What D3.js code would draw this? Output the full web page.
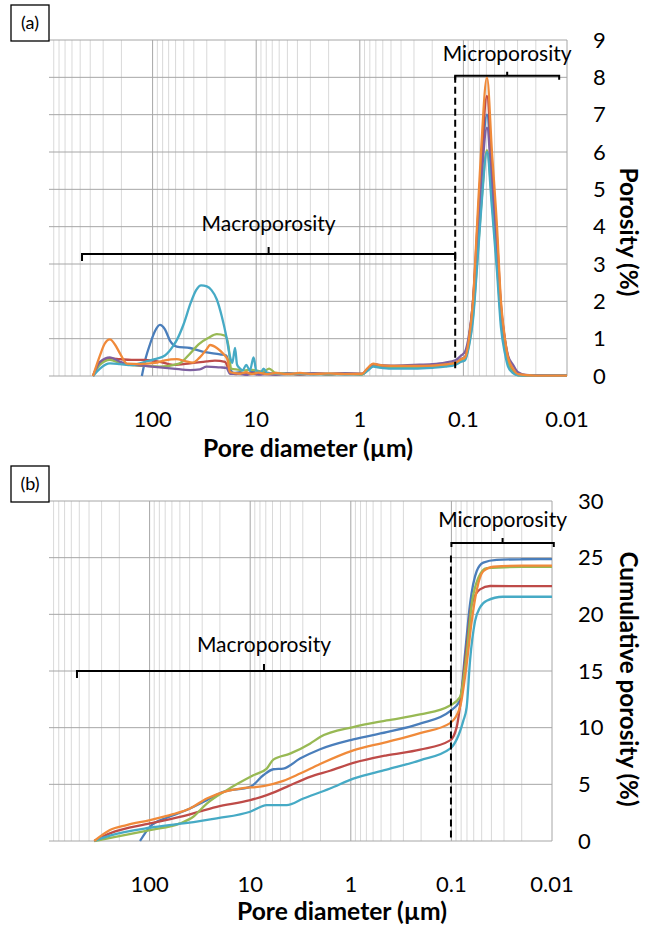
<!DOCTYPE html>
<html>
<head>
<meta charset="utf-8">
<script src="https://cdn.jsdelivr.net/npm/d3@7"></script>
<style>
body { margin: 0; background: #fff; }
text { font-family: Lato, "Open Sans", sans-serif; fill: #000; }
</style>
</head>
<body>
<svg id="chart" width="654" height="930"></svg>
<script>
// x axis (pore diameter, µm) - same for both panels
var xTicks = [100, 10, 1, 0.1, 0.01];
var xTickLabels = ["100", "10", "1", "0.1", "0.01"];
var distTicks = [0, 1, 2, 3, 4, 5, 6, 7, 8, 9];
var cumTicks = [0, 5, 10, 15, 20, 25, 30];

var colors = {
  blue: "#4a7ebb", red: "#be4b48", green: "#98b954",
  purple: "#7d60a0", teal: "#46aac5", orange: "#f08a3a"
};

// (a) pore size distribution, [diameter µm, porosity %]
var distBlue = [[127,0],[116,0.5],[106,0.85],[95,1.2],[85,1.37],[76,1.25],[68,0.95],[58.5,0.79],[43.5,0.75],[33,0.65],[22.3,0.58],[19.4,0.55],[17.9,0.2],[16.5,0.08],
  [14.3,0.1],[12.5,0.05],[11,0.12],[9.5,0.06],[8,0.09],[6.5,0.05],[5,0.07],[3.8,0.05],[2.8,0.07],[2,0.05],[1.4,0.07],[0.95,0.05],[0.85,0.16],[0.74,0.3],[0.66,0.27],[0.5,0.24],[0.3,0.25],[0.2,0.27],[0.15,0.3],[0.12,0.36],[0.105,0.45],
  [0.0965,0.5],[0.0883,1.0],[0.0808,1.9],[0.0739,3.6],[0.0676,5.3],[0.0592,7.0],[0.053,5.3],[0.0474,3.5],[0.0434,1.8],[0.0397,0.9],[0.0371,0.45],[0.0332,0.15],[0.0297,0.03],[0.02,0.01],[0.01,0.01]];
var distRed = [[376,0],[322,0.35],[258,0.47],[206,0.45],[160,0.43],[118,0.43],[85,0.38],[63.5,0.3],[43.5,0.34],[30,0.39],[25,0.41],[20,0.38],[17.9,0.1],[16,0.05],
  [14.3,0.07],[12.5,0.04],[11,0.08],[9.5,0.05],[8,0.06],[6.5,0.04],[5,0.06],[3.8,0.04],[2.8,0.06],[2,0.05],[1.4,0.06],[0.95,0.05],[0.85,0.18],[0.74,0.31],[0.66,0.28],[0.5,0.25],[0.3,0.25],[0.2,0.27],[0.15,0.3],[0.12,0.35],[0.105,0.45],
  [0.0965,0.5],[0.0883,1.0],[0.0808,2.0],[0.0739,3.8],[0.0676,5.6],[0.0592,7.5],[0.053,5.6],[0.0474,3.7],[0.0434,1.9],[0.0397,0.95],[0.0371,0.48],[0.0332,0.16],[0.0297,0.03],[0.02,0.01],[0.01,0.01]];
var distGreen = [[376,0],[322,0.3],[258,0.43],[206,0.35],[160,0.29],[118,0.27],[85,0.25],[62,0.3],[54,0.35],[43.5,0.6],[36,0.85],[29,1.02],[24,1.12],[20,1.08],[18.5,0.8],[17.5,0.2],[15,0.17],[13,0.15],[11.5,0.17],[8.5,0.12],[7.5,0.2],[6.5,0.08],
  [5,0.06],[3.8,0.05],[2.8,0.06],[2,0.04],[1.4,0.06],[0.95,0.04],[0.85,0.14],[0.74,0.27],[0.66,0.24],[0.5,0.22],[0.3,0.22],[0.2,0.24],[0.15,0.27],[0.12,0.32],[0.105,0.4],
  [0.0965,0.45],[0.0883,0.85],[0.0808,1.6],[0.0739,3.0],[0.0676,4.5],[0.0592,6.05],[0.053,4.7],[0.0474,3.0],[0.0434,1.5],[0.0397,0.75],[0.0371,0.35],[0.0332,0.1],[0.0297,0.02],[0.02,0.01],[0.01,0.01]];
var distPurple = [[376,0],[322,0.38],[258,0.5],[206,0.38],[177,0.32],[118,0.27],[85,0.23],[63.5,0.2],[43.5,0.16],[35,0.18],[30,0.25],[22.3,0.23],[19.4,0.22],[17.9,0.06],
  [14.3,0.05],[12.5,0.03],[11,0.06],[9.5,0.04],[8,0.05],[6.5,0.04],[5,0.06],[3.8,0.05],[2.8,0.07],[2,0.05],[1.4,0.07],[0.95,0.06],[0.85,0.18],[0.74,0.32],[0.66,0.3],[0.5,0.28],[0.3,0.3],[0.2,0.32],[0.15,0.36],[0.12,0.42],[0.105,0.55],
  [0.0965,0.65],[0.0883,1.1],[0.0808,2.0],[0.0739,3.5],[0.0676,5.1],[0.0592,6.65],[0.053,5.1],[0.0474,3.4],[0.0434,1.8],[0.0397,0.95],[0.0371,0.55],[0.0332,0.3],[0.0297,0.1],[0.025,0.03],[0.02,0.02],[0.01,0.01]];
var distTeal = [[376,0],[322,0.2],[258,0.34],[206,0.32],[160,0.29],[118,0.38],[95,0.45],[76,0.55],[63.5,0.8],[58.5,0.96],[50,1.4],[43,1.95],[38,2.3],[34,2.43],[30,2.4],[27,2.3],[24,2.05],[21.5,1.6],[19.4,1.05],[18,0.55],[17,0.35],[16,0.75],[15.3,0.3],[14.3,0.2],[13.5,0.15],[12.5,0.3],[11.5,0.15],[10.6,0.5],[10,0.15],[9,0.1],[8.5,0.2],[7.8,0.08],
  [6.5,0.06],[5,0.05],[3.8,0.06],[2.8,0.04],[2,0.06],[1.4,0.04],[0.95,0.05],[0.85,0.13],[0.74,0.25],[0.66,0.23],[0.5,0.2],[0.3,0.2],[0.2,0.22],[0.15,0.25],[0.12,0.3],[0.105,0.38],
  [0.0965,0.42],[0.0883,0.8],[0.0808,1.5],[0.0739,2.9],[0.0676,4.4],[0.0592,6.0],[0.053,4.5],[0.0474,2.8],[0.0434,1.3],[0.0397,0.6],[0.0371,0.25],[0.0332,0.08],[0.0297,0.02],[0.02,0.01],[0.01,0.01]];
var distOrange = [[376,0],[322,0.55],[292,0.85],[258,0.98],[232,0.85],[206,0.6],[177,0.33],[132,0.32],[95,0.35],[76,0.42],[58.5,0.45],[48.6,0.4],[40.7,0.36],[35,0.5],[30,0.72],[27.9,0.83],[24,0.75],[20.9,0.6],[19,0.45],[17.9,0.1],[16,0.08],
  [14.3,0.06],[12.5,0.1],[11,0.05],[9.5,0.09],[8,0.05],[6.5,0.08],[5,0.05],[3.8,0.08],[2.8,0.05],[2,0.07],[1.4,0.05],[0.95,0.06],[0.85,0.2],[0.74,0.33],[0.66,0.3],[0.5,0.27],[0.3,0.27],[0.2,0.28],[0.15,0.31],[0.12,0.35],[0.105,0.45],
  [0.0965,0.5],[0.0883,1.0],[0.0808,2.0],[0.0739,4.0],[0.0676,6.0],[0.0592,8.0],[0.053,6.0],[0.0474,4.0],[0.0434,2.0],[0.0397,1.0],[0.0371,0.5],[0.0332,0.2],[0.0297,0.05],[0.02,0.01],[0.01,0.01]];

// (b) cumulative porosity, [diameter µm, cumulative porosity %]
var cumBlue = [[124.5,0],[99.1,1.26],[67.6,2.05],[42.8,2.73],[27,3.6],[18.5,4.34],[10,4.78],[7.41,5.8],[5.89,6.33],[4.69,6.39],[3.2,7.27],[2.02,8.1],[0.944,8.97],[0.44,9.6],[0.205,10.35],[0.103,11.46],[0.0822,12.4],[0.0733,16.5],[0.0653,20.9],[0.0561,23.8],[0.0482,24.56],[0.0355,24.8],[0.02,24.86],[0.01,24.88]];
var cumRed = [[355,0],[248,0.67],[99.1,1.55],[46.2,2.2],[21.5,3.02],[10,3.6],[6.85,4.05],[4.34,4.78],[2.55,5.66],[1.61,6.2],[0.944,6.89],[0.44,7.56],[0.205,8.06],[0.103,8.88],[0.0886,10.05],[0.0705,17.1],[0.0628,20.9],[0.052,22.2],[0.0413,22.5],[0.02,22.49],[0.01,22.49]];
var cumGreen = [[355,0],[212,0.38],[99.1,0.97],[49.9,1.55],[36.8,2.14],[27,3.3],[17.1,4.49],[9.31,5.8],[6.85,6.39],[5.89,7.18],[4.02,7.71],[2.55,8.59],[2.02,9.17],[0.944,10.05],[0.44,10.64],[0.205,11.17],[0.103,11.96],[0.0822,12.7],[0.0705,16.5],[0.0628,20.9],[0.0541,23.2],[0.0446,24.07],[0.02,24.19],[0.01,24.19]];
var cumTeal = [[355,0],[248,0.47],[99.1,1.17],[46.2,1.55],[21.5,2.0],[10,2.58],[6.85,3.17],[4.34,3.17],[2.96,3.75],[1.61,4.63],[0.944,5.51],[0.44,6.3],[0.205,7.12],[0.103,8.15],[0.0762,10.6],[0.0705,11.8],[0.0653,15.9],[0.0582,19.4],[0.052,20.6],[0.0446,21.2],[0.0307,21.55],[0.01,21.55]];
var cumOrange = [[355,0],[248,0.97],[169,1.41],[99.1,1.85],[58.5,2.37],[39.7,2.87],[27,3.75],[17.1,4.4],[12.6,4.63],[7.41,4.84],[4.69,5.3],[3.2,5.95],[2.02,6.8],[0.944,8.0],[0.44,8.73],[0.205,9.52],[0.103,10.4],[0.0822,11.8],[0.0705,15.6],[0.0628,19.4],[0.0561,22.1],[0.0482,23.8],[0.0383,24.2],[0.02,24.3],[0.01,24.3]];

var svg = d3.select("#chart");

function drawPanel(p) {
  var g = svg.append("g");
  var x = d3.scaleLog().domain([1000, 0.01]).range([p.left, p.right]);
  var y = d3.scaleLinear().domain([0, p.yMax]).range([p.bottom, p.top]);

  // minor vertical grid (2..9 in each decade)
  var minor = [];
  for (var e = -2; e < 3; e++) {
    for (var k = 2; k <= 9; k++) minor.push(k * Math.pow(10, e));
  }
  g.selectAll(".minor").data(minor).enter().append("line")
    .attr("x1", d => x(d)).attr("x2", d => x(d))
    .attr("y1", p.top).attr("y2", p.bottom)
    .attr("stroke", "#d9d9d9").attr("stroke-width", 1);

  g.selectAll(".hgrid").data(p.yTicks).enter().append("line")
    .attr("x1", p.left).attr("x2", p.right)
    .attr("y1", d => y(d)).attr("y2", d => y(d))
    .attr("stroke", "#a6a6a6").attr("stroke-width", 1);

  g.selectAll(".major").data(xTicks).enter().append("line")
    .attr("x1", d => x(d)).attr("x2", d => x(d))
    .attr("y1", p.top).attr("y2", p.bottom)
    .attr("stroke", "#a6a6a6").attr("stroke-width", 1);

  // tick labels
  g.selectAll(".xl").data(xTicks).enter().append("text")
    .attr("x", d => x(d)).attr("y", p.bottom + p.xLabelDrop)
    .attr("text-anchor", "middle")
    .style("font-size", "22px")
    .text((d, i) => xTickLabels[i]);

  g.selectAll(".yl").data(p.yTicks).enter().append("text")
    .attr("x", p.right + 26).attr("y", d => y(d))
    .attr("dy", "0.35em").style("font-size", "22px")
    .text(d => d);

  g.append("text")
    .attr("x", p.xTitleX).attr("y", p.bottom + p.xTitleDrop)
    .attr("text-anchor", "middle")
    .attr("textLength", 210).attr("lengthAdjust", "spacingAndGlyphs")
    .style("font-size", "24px").style("font-weight", "bold")
    .text("Pore diameter (µm)");

  g.append("text")
    .attr("transform", "translate(620," + p.yTitleY + ") rotate(90)")
    .attr("text-anchor", "middle")
    .attr("textLength", p.yTitleLen).attr("lengthAdjust", "spacingAndGlyphs")
    .style("font-size", "24px").style("font-weight", "bold")
    .text(p.yTitle);

  // series
  var line = d3.line()
    .x(d => x(d[0])).y(d => y(d[1]))
    .curve(d3.curveMonotoneX);
  p.series.forEach(function(s) {
    g.append("path").datum(s.data)
      .attr("d", line)
      .attr("fill", "none")
      .attr("stroke", s.color)
      .attr("stroke-width", 2.3)
      .attr("stroke-linejoin", "round");
  });

  // dashed separator
  g.append("line")
    .attr("x1", x(p.dash.d)).attr("x2", x(p.dash.d))
    .attr("y1", y(p.dash.from)).attr("y2", y(p.dash.to))
    .attr("stroke", "#000").attr("stroke-width", 2)
    .attr("stroke-dasharray", "7,4");

  // brackets
  p.brackets.forEach(function(b) {
    var x1 = x(b.from), x2 = x(b.to), yy = y(b.v), xm = (x1 + x2) / 2;
    g.append("path")
      .attr("d", "M" + x1 + "," + (yy + b.drop) + "L" + x1 + "," + yy + "L" + x2 + "," + yy + "L" + x2 + "," + (yy + b.drop) +
        "M" + xm + "," + yy + "L" + xm + "," + (yy - b.rise))
      .attr("fill", "none").attr("stroke", "#000").attr("stroke-width", 2);
    g.append("text")
      .attr("x", xm).attr("y", yy - b.labelGap)
      .attr("text-anchor", "middle")
      .style("font-size", "21px")
      .text(b.label);
  });

  // panel label box
  g.append("rect")
    .attr("x", 11).attr("y", p.top - 35).attr("width", 38).attr("height", 36)
    .attr("fill", "#fff").attr("stroke", "#000").attr("stroke-width", 1.3);
  g.append("text")
    .attr("x", 30).attr("y", p.top - 17)
    .attr("text-anchor", "middle").attr("dy", "0.36em")
    .style("font-size", "18px")
    .text(p.tag);
}

drawPanel({
  left: 49, right: 567, top: 40, bottom: 376, yMax: 9,
  yTicks: distTicks, yTitle: "Porosity (%)", tag: "(a)",
  xLabelDrop: 51, xTitleDrop: 81, xTitleX: 308, yTitleY: 232, yTitleLen: 129,
  series: [
    { data: distBlue, color: colors.blue },
    { data: distRed, color: colors.red },
    { data: distGreen, color: colors.green },
    { data: distPurple, color: colors.purple },
    { data: distTeal, color: colors.teal },
    { data: distOrange, color: colors.orange }
  ],
  dash: { d: 0.12, from: 8.04, to: 0.21 },
  brackets: [
    { from: 480, to: 0.12, v: 3.27, drop: 7, rise: 7, labelGap: 23, label: "Macroporosity" },
    { from: 0.12, to: 0.0119, v: 8.04, drop: 4, rise: 4, labelGap: 15, label: "Microporosity" }
  ]
});

drawPanel({
  left: 49, right: 552, top: 501, bottom: 841, yMax: 30,
  yTicks: cumTicks, yTitle: "Cumulative porosity (%)", tag: "(b)",
  xLabelDrop: 51, xTitleDrop: 79, xTitleX: 342, yTitleY: 679, yTitleLen: 255,
  series: [
    { data: cumBlue, color: colors.blue },
    { data: cumRed, color: colors.red },
    { data: cumGreen, color: colors.green },
    { data: cumTeal, color: colors.teal },
    { data: cumOrange, color: colors.orange }
  ],
  dash: { d: 0.101, from: 25.2, to: 0 },
  brackets: [
    { from: 527, to: 0.101, v: 15, drop: 7, rise: 7, labelGap: 19, label: "Macroporosity" },
    { from: 0.1, to: 0.0096, v: 26.3, drop: 4, rise: 5, labelGap: 16, label: "Microporosity" }
  ]
});
</script>
</body>
</html>
